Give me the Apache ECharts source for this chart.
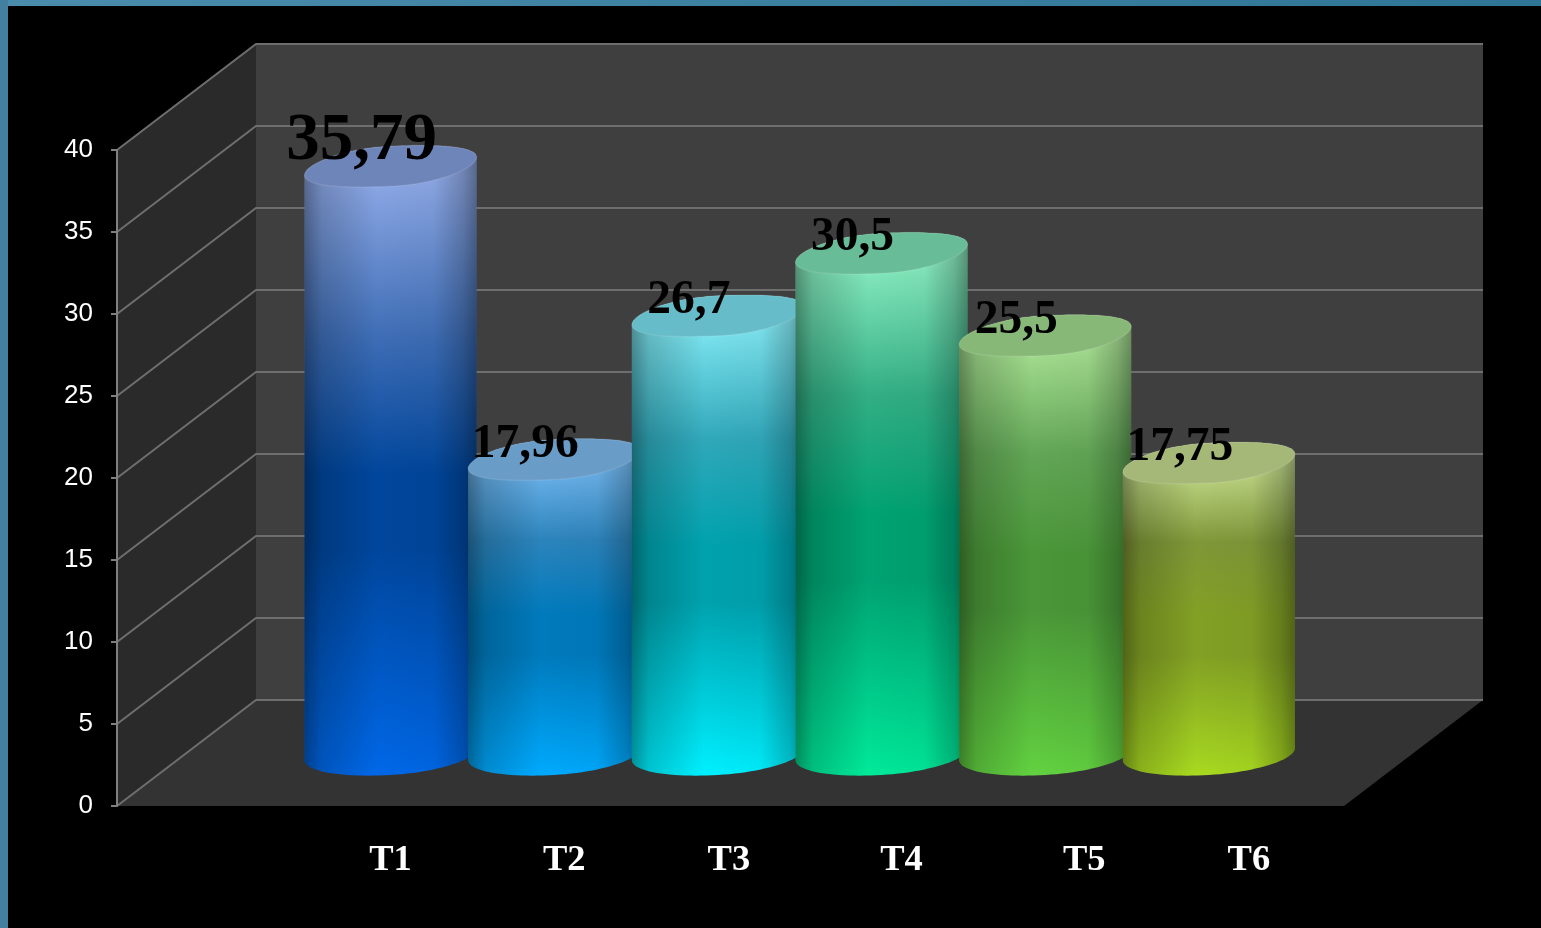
<!DOCTYPE html>
<html>
<head>
<meta charset="utf-8">
<style>html,body{margin:0;padding:0;background:#000;}#c{width:1541px;height:928px;}</style>
<script src="https://cdn.jsdelivr.net/npm/echarts@6/dist/echarts.min.js"></script>
</head>
<body>
<div id="c"></div>
<script>
const categories = ['T1','T2','T3','T4','T5','T6'];
const values = [35.79,17.96,26.7,30.5,25.5,17.75];
const ticks = [0,5,10,15,20,25,30,35,40];
const bodyColors = [
  ['#8ea9e6','#3f6eb6','#00469c','#0068e8'],
  ['#7abcf4','#2c84bc','#007abc','#00aaff'],
  ['#84eaf4','#30a8ba','#00a2ae','#00f0ff'],
  ['#8aecc0','#32ae84','#00a272','#00ea9a'],
  ['#ace496','#62a656','#4a9638','#62d240'],
  ['#cce494','#7f9738','#82a024','#a8da20']
];
const capColors = ['#6e85ba','#6a9cc8','#66bcc8','#68bc98','#88b878','#a6b878'];
const labelSizes = [67,47.5,47.5,47.5,47.5,47.5];
const labelLift = [3,0,0,0,0,0];
const categoryNudge = [0,10,11,20,39,40];

const DEPTH_X = 139, DEPTH_Y = 106, RX = 86;
const G = echarts.graphic;

// cap and foot outlines of a cylinder seen at a slight tilt
function arc(cx, cy, t0, t1, n, ry, s1, s2) {
  const pts = [];
  for (let i = 0; i <= n; i++) {
    const t = t0 + (t1 - t0) * i / n;
    const c = Math.cos(t);
    pts.push([cx + RX * c, cy + ry * Math.sin(t) - s1 * c - s2 * c * Math.abs(c)]);
  }
  return pts;
}

function renderWalls(params, api) {
  const v = api.value(1);
  const a = api.coord([0, v]), b = api.coord([1, v]);
  const children = [];
  if (v === 0) {
    const t = api.coord([0, 40]);
    children.push({type:'polygon', shape:{points:[
      [t[0]+DEPTH_X,t[1]-DEPTH_Y],[b[0]+DEPTH_X,t[1]-DEPTH_Y],[b[0]+DEPTH_X,a[1]-DEPTH_Y],[a[0]+DEPTH_X,a[1]-DEPTH_Y]
    ]}, style:{fill:'#3f3f3f'}});
    children.push({type:'polygon', shape:{points:[
      a,[a[0]+DEPTH_X,a[1]-DEPTH_Y],[t[0]+DEPTH_X,t[1]-DEPTH_Y],t
    ]}, style:{fill:'#2a2a2a'}});
    children.push({type:'polygon', shape:{points:[
      a,b,[b[0]+DEPTH_X,b[1]-DEPTH_Y],[a[0]+DEPTH_X,a[1]-DEPTH_Y]
    ]}, style:{fill:'#333333'}});
  }
  children.push({type:'polyline', shape:{points:[
    a,[a[0]+DEPTH_X,a[1]-DEPTH_Y],[b[0]+DEPTH_X,b[1]-DEPTH_Y]
  ]}, style:{fill:null, stroke:'#6e6e6e', lineWidth:2}});
  return {type:'group', children};
}

function renderBar(params, api) {
  const i = params.dataIndex;
  const top = api.coord([api.value(0), api.value(1)]);
  const base = api.coord([api.value(0), 0]);
  const outline = arc(base[0], base[1]-1, Math.PI, 0, 48, 21, 5, 1)
    .concat(arc(top[0], top[1], 0, -Math.PI, 48, 20, 4, 5));
  const c = bodyColors[i];
  const vertical = new G.LinearGradient(0,0,0,1,[
    {offset:0.05,color:c[0]},{offset:0.3,color:c[1]},{offset:0.52,color:c[2]},{offset:0.64,color:c[2]},{offset:1,color:c[3]}
  ]);
  const horizontal = new G.LinearGradient(0,0,1,0,[
    {offset:0,color:'rgba(0,0,0,0.38)'},{offset:0.1,color:'rgba(0,0,0,0.18)'},
    {offset:0.42,color:'rgba(0,0,0,0)'},{offset:0.75,color:'rgba(0,0,0,0.03)'},
    {offset:0.92,color:'rgba(0,0,0,0.22)'},{offset:1,color:'rgba(0,0,0,0.38)'}
  ]);
  const cap = arc(top[0], top[1], 0, 2*Math.PI, 96, 20, 4, 5);
  return {type:'group', children:[
    {type:'polygon', shape:{points:outline}, style:{fill:vertical}},
    {type:'polygon', shape:{points:outline}, style:{fill:horizontal}},
    {type:'polygon', shape:{points:cap}, style:{fill:capColors[i], stroke:'rgba(255,255,255,0.1)', lineWidth:1.5}}
  ]};
}

function renderValueLabel(params, api) {
  const i = params.dataIndex;
  const top = api.coord([api.value(0), api.value(1)]);
  const size = labelSizes[i];
  return {type:'text', x: top[0]-29, y: top[1]+1-labelLift[i]-size*0.34,
    style:{text:String(values[i]).replace('.',','), fill:'#000', align:'center', verticalAlign:'middle',
      font:'bold '+size+'px "Liberation Serif"'}};
}

function renderCategoryLabel(params, api) {
  const i = params.dataIndex;
  const base = api.coord([api.value(0), 0]);
  return {type:'text', x: base[0]+categoryNudge[i], y: 861,
    style:{text:categories[i], fill:'#fff', align:'center', verticalAlign:'middle',
      font:'bold 36.5px "Liberation Serif"'}};
}

const barData = categories.map((c,i)=>[c, values[i]]);

const chart = echarts.init(document.getElementById('c'), null, {renderer:'canvas'});
chart.setOption({
  animation:false,
  backgroundColor:'#000',
  graphic:[
    {type:'rect', shape:{x:0,y:0,width:1541,height:6}, z:10,
     style:{fill:new G.LinearGradient(0,0,1,0,[{offset:0,color:'#4a8cab'},{offset:1,color:'#2f7596'}])}},
    {type:'rect', shape:{x:0,y:0,width:8,height:928}, z:10, style:{fill:'#437f9f'}}
  ],
  grid:[
    {left:117, top:150, width:1227, height:656},
    {left:308.7, top:97, width:982, height:658}
  ],
  xAxis:[
    {gridIndex:0, type:'value', min:0, max:1, show:false},
    {gridIndex:1, type:'category', data:categories, show:false}
  ],
  yAxis:[
    {gridIndex:0, type:'value', min:0, max:40, interval:5, splitLine:{show:false},
     axisLine:{show:true, lineStyle:{color:'#808080', width:2}},
     axisTick:{show:true, length:6, lineStyle:{color:'#808080', width:2}},
     axisLabel:{color:'#fff', fontSize:26, fontFamily:'Liberation Sans', margin:24, padding:[5,0,0,0]}, z:5},
    {gridIndex:1, type:'value', min:0, max:40, show:false}
  ],
  series:[
    {type:'custom', xAxisIndex:0, yAxisIndex:0, coordinateSystem:'cartesian2d', z:1, silent:true,
     data:ticks.map(t=>[0,t]), encode:{x:0,y:1}, renderItem:renderWalls},
    {type:'custom', xAxisIndex:1, yAxisIndex:1, coordinateSystem:'cartesian2d', z:2, silent:true,
     data:barData, encode:{x:0,y:1}, renderItem:renderBar},
    {type:'custom', xAxisIndex:1, yAxisIndex:1, coordinateSystem:'cartesian2d', z:3, silent:true,
     data:barData, encode:{x:0,y:1}, renderItem:renderValueLabel},
    {type:'custom', xAxisIndex:1, yAxisIndex:1, coordinateSystem:'cartesian2d', z:3, silent:true,
     data:barData, encode:{x:0,y:1}, renderItem:renderCategoryLabel}
  ]
});
</script>
</body>
</html>
